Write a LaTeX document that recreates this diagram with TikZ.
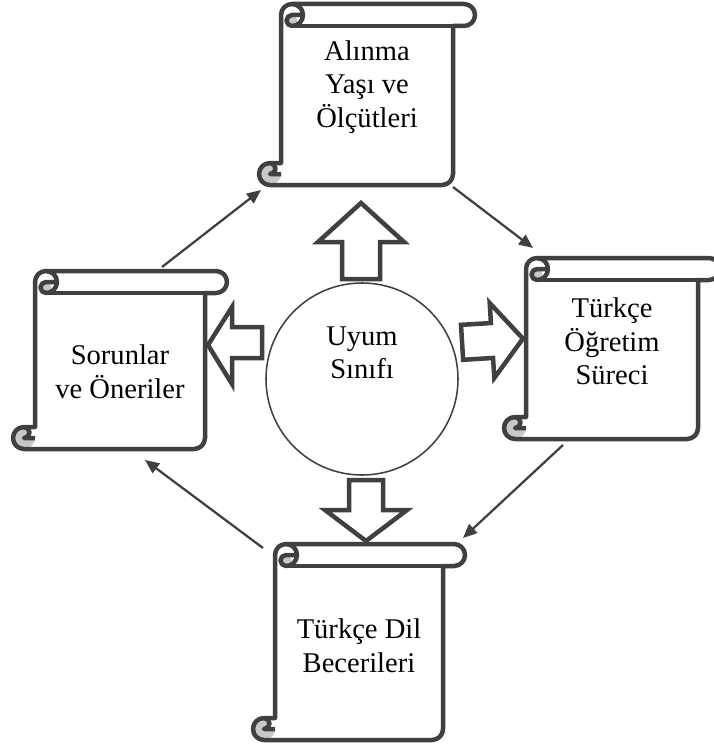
\documentclass[tikz,border=0pt]{standalone}
\usepackage{fontspec}
\setmainfont{Liberation Serif}
\usetikzlibrary{arrows.meta, calc}

\definecolor{linegray}{RGB}{64,64,64}
\definecolor{curlgray}{RGB}{200,200,200}

% scroll drawn round a body node: name, width, height
\newcommand\scrolloutline[3]{%
  \begin{scope}[shift={(#1.north west)}]
    \fill[curlgray] (11,16.5) circle[radius=5.5];
    \fill[curlgray] (-11,#3-22) arc[start angle=270,delta angle=180,radius=5.5] -- (0,#3-11)
      arc[start angle=0,delta angle=90,radius=11] arc[start angle=90,delta angle=180,radius=11] -- cycle;
    \draw[scrollline] (0,#3-22) -- (0,11) arc[start angle=180,delta angle=90,radius=11]
      -- (#2+11,0) arc[start angle=270,delta angle=180,radius=11] -- (#2,22) -- (#2,#3-11)
      arc[start angle=0,delta angle=90,radius=11] -- (-11,#3)
      arc[start angle=90,delta angle=180,radius=11] -- cycle;
    \draw[scrollline] (11,0) arc[start angle=270,delta angle=180,radius=11]
      arc[start angle=90,delta angle=180,radius=5.5] -- (22,11);
    \draw[scrollline] (#2,22) -- (11,22);
    \draw[scrollline] (-11,#3-22) arc[start angle=270,delta angle=180,radius=5.5] -- (0,#3-11);
  \end{scope}}

\begin{document}
\begin{tikzpicture}[x=0.025cm, y=-0.025cm,
    scrollline/.style={draw=linegray, line width=3.2pt, line join=round},
    scrollbody/.style={rectangle, draw=none, inner sep=0pt, outer sep=0pt},
    boxtext/.style={align=center, inner sep=0pt, font=\fontsize{20.3}{23.8}\selectfont},
    link/.style={draw=linegray, line width=1.6pt, -{Triangle[length=10pt, width=8.5pt]}}]
  \tikzstyle{blockarrow}=[draw=linegray, line width=3.2pt, fill=white, line join=miter]
  \useasboundingbox (0,0) rectangle (714,749);

  % Scrolls
  \node[scrollbody, minimum width=172*0.025cm, minimum height=181*0.025cm,
        label={[boxtext, yshift=5.5pt]center:Alınma\\Yaşı ve\\Ölçütleri}] (alinma) at (367,94.5) {};
  \node[scrollbody, minimum width=172*0.025cm, minimum height=181*0.025cm,
        label={[boxtext, yshift=5pt]center:Türkçe\\Öğretim\\Süreci}] (surec) at (612,348.5) {};
  \node[scrollbody, minimum width=170*0.025cm, minimum height=178*0.025cm,
        label={[boxtext, yshift=-8.5pt]center:Sorunlar\\ve Öneriler}] (sorunlar) at (120,360) {};
  \node[scrollbody, minimum width=168*0.025cm, minimum height=196*0.025cm,
        label={[boxtext, yshift=-2.5pt]center:Türkçe Dil\\Becerileri}] (beceri) at (359,642) {};
  \scrolloutline{alinma}{172}{181}
  \scrolloutline{surec}{172}{181}
  \scrolloutline{sorunlar}{170}{178}
  \scrolloutline{beceri}{168}{196}

  % Centre
  \node[circle, draw=linegray, line width=1.1pt, minimum size=192*0.025cm, inner sep=0pt,
        label={[boxtext, yshift=18.5pt]center:Uyum\\Sınıfı}] (uyum) at (362,379) {};

  % Block arrows
  \draw[blockarrow] (342,279) -- (342,242) -- (318,242) -- (361,203) -- (404,242) -- (380,242) -- (380,279) -- cycle;
  \draw[blockarrow] (349,480) -- (383,480) -- (383,510) -- (407,510) -- (366,541) -- (325,510) -- (349,510) -- cycle;
  \draw[blockarrow] (262,327) -- (232,327) -- (232,307) -- (208,345) -- (232,384) -- (232,358) -- (262,358) -- cycle;
  \draw[blockarrow, rotate around={3.5:(492,340.5)}] (462,323) -- (492,323) -- (492,303) -- (523,340.5)
    -- (492,378) -- (492,358) -- (462,358) -- cycle;

  % Cycle
  \draw[link] ($(alinma.south east)+(0,2)$) -- ($(surec.north west)+(7,-10)$);
  \draw[link] ($(surec.south)+(-49,6)$) -- ($(beceri.north east)+(20,-6)$);
  \draw[link] ($(beceri.north west)+(-12,4)$) -- ($(sorunlar.south east)+(-60,11)$);
  \draw[link] ($(sorunlar.north)+(42,-4)$) -- ($(alinma.south west)+(-20,5)$);
\end{tikzpicture}
\end{document}
